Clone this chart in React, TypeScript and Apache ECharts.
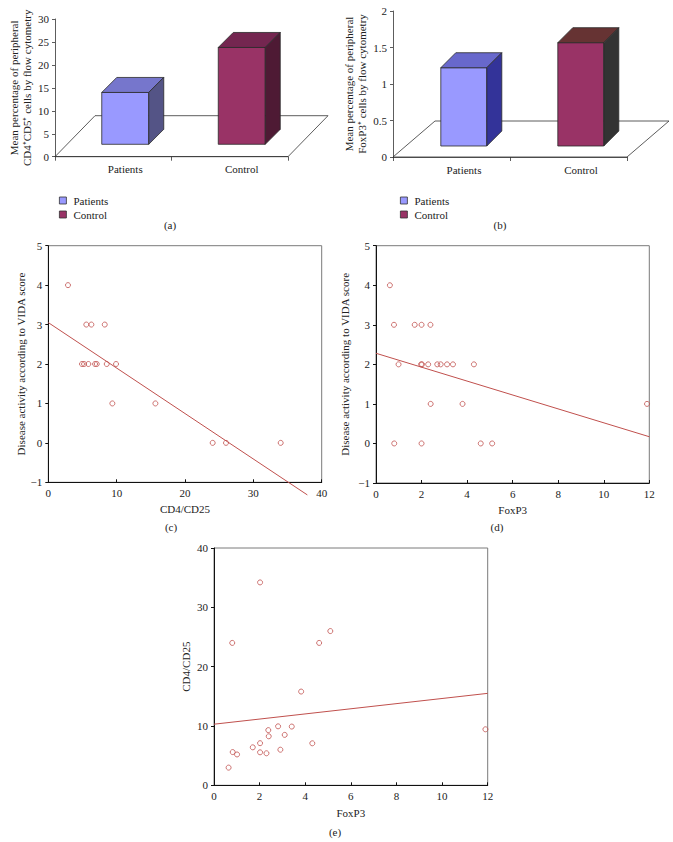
import React, { useEffect, useRef } from "react";
import * as echarts from "echarts";

// ---- data ----
const barCategories = ["Patients", "Control"];
const cd4cd25Means = [14, 23.8];
const foxp3Means = [1.223, 1.566];
const cd4Ticks = [0, 30, 5];
const foxTicks = [0, 2, 0.5];

// panel (c): CD4/CD25 vs VIDA score
const cPointsX = [2.88, 5.56, 6.3, 8.26, 4.93, 5.23, 5.86, 6.84, 7.09, 8.55, 9.91, 9.37, 15.67, 24.05, 26.0, 34.0];
const cPointsY = [4, 3, 3, 3, 2, 2, 2, 2, 2, 2, 2, 1, 1, 0, 0, 0];
const cFitX = [0, 37.9];
const cFitY = [3.05, -1.32];

// panel (d): FoxP3 vs VIDA score
const dPointsX = [0.61, 0.79, 1.7, 2.0, 2.39, 0.99, 1.98, 2.02, 2.29, 2.69, 2.84, 3.12, 3.38, 4.3, 2.4, 3.8, 11.9, 0.8, 2.0, 4.6, 5.1];
const dPointsY = [4, 3, 3, 3, 3, 2, 2, 2, 2, 2, 2, 2, 2, 2, 1, 1, 1, 0, 0, 0, 0];
const dFitX = [0, 12];
const dFitY = [2.28, 0.17];

// panel (e): FoxP3 vs CD4/CD25
const ePointsX = [0.64, 0.82, 0.8, 1.01, 1.7, 2.02, 2.02, 2.02, 2.3, 2.38, 2.4, 2.81, 2.91, 3.1, 3.41, 3.82, 4.31, 4.61, 5.1, 11.9];
const ePointsY = [2.98, 5.6, 24.0, 5.2, 6.4, 5.56, 7.1, 34.2, 5.4, 9.3, 8.26, 9.94, 6.0, 8.5, 9.9, 15.8, 7.08, 24.0, 26.0, 9.44];
const eFitX = [0, 12];
const eFitY = [10.3, 15.5];

const FONT = "'Liberation Serif', 'Times New Roman', serif";
const RED = "#C0504D";
const TXT = "#222";

const zip = (xs: number[], ys: number[]) => xs.map((x, i) => [x, ys[i]]);

const colorsA = [
  { front: "#9999FF", top: "#7676CC", side: "#545486" },
  { front: "#993366", top: "#742650", side: "#4E1A34" },
];
const colorsB = [
  { front: "#9999FF", top: "#6868CC", side: "#333399" },
  { front: "#993366", top: "#663333", side: "#333333" },
];

function barRender(shiftX: number, shiftY: number, halfW: number, col: any) {
  return (params: any, api: any) => {
    const idx = api.value(0);
    const v = api.value(1);
    const p0 = api.coord([idx, 0]);
    const pv = api.coord([idx, v]);
    const cx = p0[0] + shiftX;
    const yb = p0[1] - shiftY;
    const yt = pv[1];
    const d = 15;
    const st = { stroke: "#2a2a2a", lineWidth: 0.8 };
    return {
      type: "group",
      children: [
        {
          type: "polygon",
          shape: { points: [[cx - halfW, yt], [cx + halfW, yt], [cx + halfW, yb], [cx - halfW, yb]] },
          style: { fill: col.front, ...st },
        },
        {
          type: "polygon",
          shape: { points: [[cx - halfW, yt], [cx - halfW + d, yt - d], [cx + halfW + d, yt - d], [cx + halfW, yt]] },
          style: { fill: col.top, ...st },
        },
        {
          type: "polygon",
          shape: { points: [[cx + halfW, yt], [cx + halfW + d, yt - d], [cx + halfW + d, yb - d], [cx + halfW, yb]] },
          style: { fill: col.side, ...st },
        },
      ],
    };
  };
}

function floorRender(bx: number, by: number) {
  return (params: any) => {
    const cs = params.coordSys;
    const x0 = cs.x, x1 = cs.x + cs.width, y0 = cs.y + cs.height;
    return {
      type: "polygon",
      shape: { points: [[x0, y0], [x1, y0], [x1 + bx, y0 - by], [x0 + bx, y0 - by]] },
      style: { fill: "none", stroke: "#333", lineWidth: 0.8 },
      silent: true,
    };
  };
}

const baseText = { fontFamily: FONT, fontSize: 11, color: TXT };

function catAxis(gridIndex: number, pad: number) {
  return {
    type: "category",
    gridIndex,
    data: barCategories,
    axisLine: { lineStyle: { color: "#333", width: 0.8 } },
    axisTick: { show: true, length: 4, lineStyle: { color: "#333", width: 0.8 } },
    axisLabel: { ...baseText, margin: 7, padding: [0, 0, 0, pad] },
    splitLine: { show: false },
  };
}

function valAxisBar(gridIndex: number, ticks: number[], name: string, gap: number) {
  return {
    type: "value",
    gridIndex,
    min: ticks[0],
    max: ticks[1],
    interval: ticks[2],
    name,
    nameLocation: "middle",
    nameRotate: 90,
    nameGap: gap,
    nameTextStyle: { ...baseText, lineHeight: 13.5 },
    axisLine: { show: true, lineStyle: { color: "#333", width: 0.8 } },
    axisTick: { show: true, length: 3, lineStyle: { color: "#333", width: 0.8 } },
    axisLabel: { ...baseText, margin: 6 },
    splitLine: { show: false },
  };
}

function scatterX(gridIndex: number, min: number, max: number, interval: number, name: string, gap: number) {
  return {
    type: "value",
    gridIndex,
    min,
    max,
    interval,
    name,
    nameLocation: "middle",
    nameGap: gap,
    nameTextStyle: { ...baseText },
    axisLine: { show: true, onZero: false, lineStyle: { color: "#111", width: 1 } },
    axisTick: { show: true, inside: true, length: 3, lineStyle: { color: "#111" } },
    axisLabel: { ...baseText, margin: 5, formatter: (v: number) => String(v).replace("-", "\u2212") },
    splitLine: { show: false },
  };
}

function scatterY(gridIndex: number, min: number, max: number, interval: number, name: string, gap: number) {
  return {
    type: "value",
    gridIndex,
    min,
    max,
    interval,
    name,
    nameLocation: "middle",
    nameRotate: 90,
    nameGap: gap,
    nameTextStyle: { ...baseText },
    axisLine: { show: true, onZero: false, lineStyle: { color: "#111", width: 1 } },
    axisTick: { show: true, length: 3, lineStyle: { color: "#111" } },
    axisLabel: { ...baseText, margin: 6, formatter: (v: number) => String(v).replace("-", "\u2212") },
    splitLine: { show: false },
  };
}

function scatterSeries(axisIndex: number, pts: number[][]) {
  return {
    type: "scatter",
    xAxisIndex: axisIndex,
    yAxisIndex: axisIndex,
    data: pts,
    symbol: "circle",
    symbolSize: 5,
    itemStyle: { color: "rgba(255,255,255,0)", borderColor: RED, borderWidth: 1 },
    silent: true,
  };
}

function fitSeries(axisIndex: number, pts: number[][]) {
  return {
    type: "line",
    xAxisIndex: axisIndex,
    yAxisIndex: axisIndex,
    data: pts,
    showSymbol: false,
    symbol: "none",
    clip: false,
    lineStyle: { color: RED, width: 1 },
    silent: true,
  };
}

function legendAt(left: number) {
  return {
    orient: "vertical",
    left,
    top: 189,
    itemWidth: 7,
    itemHeight: 7,
    itemGap: 1,
    icon: "rect",
    data: barCategories,
    textStyle: { ...baseText, lineHeight: 13, padding: [0, 0, 0, 2] },
    itemStyle: { borderColor: "#333", borderWidth: 0.8 },
    selectedMode: false,
  };
}

function caption(text: string, x: number, y: number) {
  return {
    type: "text",
    x,
    y,
    style: { text, fontFamily: FONT, fontSize: 11, fill: TXT, align: "center", verticalAlign: "middle" },
  };
}

export default function App() {
  const ref = useRef<HTMLDivElement>(null);
  useEffect(() => {
    if (!ref.current) return;
    const chart = echarts.init(ref.current, null, { renderer: "svg" });
    const gridStyle = { show: false, containLabel: false };
    const boxStyle = { show: true, borderColor: "#7a7a7a", borderWidth: 1, backgroundColor: "transparent" };
    const option: any = {
      animation: false,
      backgroundColor: "#fff",
      textStyle: { fontFamily: FONT },
      grid: [
        { ...gridStyle, left: 55, top: 19, width: 233, height: 137.7 },
        { ...gridStyle, left: 393, top: 11, width: 234, height: 146 },
        { ...boxStyle, left: 48.3, top: 245.7, width: 273.4, height: 236.6 },
        { ...boxStyle, left: 376, top: 245.7, width: 273.3, height: 237.3 },
        { ...boxStyle, left: 214, top: 548, width: 273.7, height: 237.3 },
      ],
      xAxis: [
        catAxis(0, 24),
        catAxis(1, 25),
        scatterX(2, 0, 40, 10, "CD4/CD25", 21),
        scatterX(3, 0, 12, 2, "FoxP3", 21),
        scatterX(4, 0, 12, 2, "FoxP3", 22),
      ],
      yAxis: [
        valAxisBar(0, cd4Ticks, "Mean percentage of peripheral\nCD4\u207aCD5\u207a cells by flow cytometry", 21),
        valAxisBar(1, foxTicks, "Mean percentage of peripheral\nFoxP3\u207a cells by flow cytometry", 24),
        scatterY(2, -1, 5, 1, "Disease activity according to VIDA score", 20),
        scatterY(3, -1, 5, 1, "Disease activity according to VIDA score", 26),
        scatterY(4, 0, 40, 10, "CD4/CD25", 23),
      ],
      legend: [legendAt(54), legendAt(395)],
      series: [
        { type: "custom", xAxisIndex: 0, yAxisIndex: 0, data: [[0, 0]], renderItem: floorRender(40, 41), silent: true, z: 1 },
        { type: "custom", xAxisIndex: 1, yAxisIndex: 1, data: [[0, 0]], renderItem: floorRender(42, 36), silent: true, z: 1 },
        ...barCategories.map((name, i) => ({
          type: "custom",
          name,
          xAxisIndex: 0,
          yAxisIndex: 0,
          data: [[i, cd4cd25Means[i]]],
          encode: { x: 0, y: 1 },
          itemStyle: { color: colorsA[i].front },
          renderItem: barRender(12, 12.4, 23.5, colorsA[i]),
          z: 3,
          silent: true,
        })),
        ...barCategories.map((name, i) => ({
          type: "custom",
          name,
          xAxisIndex: 1,
          yAxisIndex: 1,
          data: [[i, foxp3Means[i]]],
          encode: { x: 0, y: 1 },
          itemStyle: { color: colorsB[i].front },
          renderItem: barRender(12.3, 11, 23, colorsB[i]),
          z: 3,
          silent: true,
        })),
        scatterSeries(2, zip(cPointsX, cPointsY)),
        fitSeries(2, zip(cFitX, cFitY)),
        scatterSeries(3, zip(dPointsX, dPointsY)),
        fitSeries(3, zip(dFitX, dFitY)),
        scatterSeries(4, zip(ePointsX, ePointsY)),
        fitSeries(4, zip(eFitX, eFitY)),
      ],
      graphic: [
        caption("(a)", 170, 225),
        caption("(b)", 500, 225),
        caption("(c)", 171, 527),
        caption("(d)", 497, 527),
        caption("(e)", 335, 832),
      ],
    };
    chart.setOption(option);
    return () => chart.dispose();
  }, []);
  return (
    <div
      ref={ref}
      style={{ position: "fixed", left: 0, top: 0, width: 673, height: 842, background: "#fff" }}
    />
  );
}
